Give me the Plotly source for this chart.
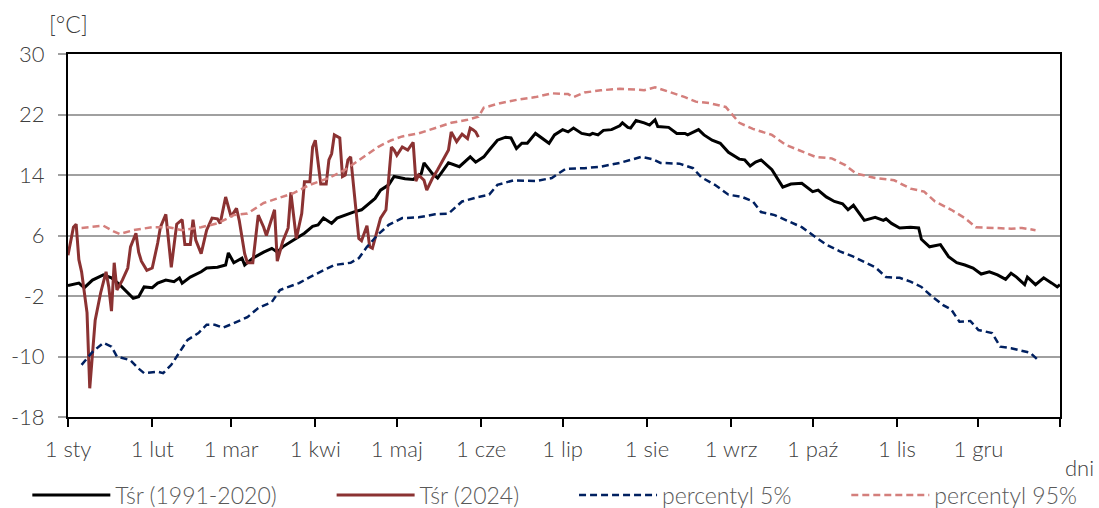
import plotly.graph_objects as go

# ---- data (day index 0 = 1 Jan 2024) ----
clim_days = [0,4,6,9,13,16,19,22,24,26,28,31,33,36,39,41,42,45,49,51,55,58,59,61,64,65,68,72,75,77,79,83,87,90,92,94,97,99,103,105,108,110,113,115,118,120,124,127,130,131,134,136,140,144,148,150,153,155,158,161,163,165,167,169,172,177,179,182,184,186,189,192,193,195,197,200,203,204,206,207,209,212,214,216,217,221,224,227,228,232,234,237,240,243,247,249,251,253,255,259,263,266,270,274,276,279,282,285,287,289,293,297,300,301,303,306,310,313,314,317,321,324,327,330,333,336,339,342,345,347,349,352,353,356,359,362,364,365]
clim_vals = [-0.6,-0.3,-0.9,0.1,0.8,0.4,-0.5,-1.6,-2.3,-2.1,-0.8,-0.9,-0.3,0.1,-0.1,0.4,-0.3,0.5,1.2,1.7,1.8,2.1,3.7,2.4,3.0,2.1,3.0,3.8,4.3,3.8,4.5,5.4,6.3,7.2,7.4,8.3,7.6,8.3,8.9,9.1,9.4,10.0,10.9,12.0,12.7,13.8,13.5,13.4,14.2,15.6,14.2,13.6,15.6,15.1,16.4,15.7,16.4,17.3,18.6,19.0,18.9,17.5,18.2,18.2,19.5,18.2,19.3,20.0,19.7,20.2,19.5,19.3,19.5,19.3,19.9,20.0,20.5,20.9,20.3,20.2,21.2,20.9,20.6,21.3,20.4,20.3,19.5,19.5,19.3,20.0,19.3,18.6,18.2,17.0,16.1,16.0,15.2,15.7,16.0,14.7,12.4,12.8,12.9,11.8,12.0,11.1,10.5,10.2,9.4,10.0,8.0,8.4,8.0,8.2,7.6,7.0,7.1,7.0,5.5,4.5,4.8,3.2,2.4,2.1,1.7,0.9,1.2,0.8,0.2,1.0,0.5,-0.5,0.5,-0.5,0.4,-0.3,-0.8,-0.5]

y2024_days = [0,2,3,4,5,7,8,10,12,14,15,16,17,18,20,22,23,25,26,27,29,31,33,34,36,37,38,40,42,43,45,46,47,49,51,53,55,56,58,60,62,63,65,66,68,70,72,73,76,77,79,81,82,84,86,87,89,90,91,93,95,96,97,98,100,101,102,103,104,107,108,110,111,112,114,115,117,119,120,121,123,125,127,128,129,131,132,134,136,139,140,141,143,144,145,147,148,149,150,151]
y2024_vals = [3.4,7.1,7.5,2.8,1.2,-4.2,-14.2,-5.2,-1.6,1.2,-0.8,-4.0,2.4,-1.2,0.1,1.7,4.5,6.3,3.8,2.6,1.4,1.7,5.0,7.1,8.8,5.7,1.8,7.5,8.1,4.8,4.8,8.1,5.4,3.6,6.7,8.3,8.2,7.6,11.1,8.5,9.6,8.0,3.6,2.4,2.4,8.7,7.1,6.0,9.4,2.6,5.2,7.0,11.7,5.6,8.9,13.1,13.1,17.7,18.6,12.8,12.8,16.0,16.8,19.3,18.9,13.8,14.0,16.0,16.4,5.6,5.3,7.3,4.5,4.3,6.9,8.3,9.4,17.7,17.3,16.6,17.7,17.3,18.3,13.2,14.0,13.3,12.0,13.5,14.7,16.6,17.3,19.7,18.4,18.9,19.4,18.8,20.2,20.0,19.7,19.0]

p5_days = [5,9,13,16,18,23,26,28,33,35,38,41,44,48,51,54,57,61,66,70,75,78,85,89,94,98,104,107,110,114,118,123,129,135,140,145,151,155,158,164,172,178,183,190,196,203,207,211,215,218,225,230,233,238,243,248,252,255,260,266,270,275,279,284,289,293,297,301,306,310,314,318,322,325,328,332,335,340,343,347,349,354,357]
p5_vals = [-11.1,-9.4,-8.2,-8.7,-10.0,-10.5,-11.6,-12.2,-12.0,-12.2,-11.1,-9.4,-7.8,-6.9,-5.8,-5.8,-6.2,-5.6,-4.8,-3.6,-2.8,-1.2,-0.3,0.5,1.4,2.1,2.4,3.0,4.5,6.1,7.4,8.3,8.4,8.8,8.9,10.5,11.1,11.4,12.7,13.3,13.2,13.6,14.8,14.9,15.1,15.6,16.0,16.4,16.1,15.6,15.5,14.9,13.7,12.7,11.4,11.1,10.5,9.1,8.7,7.8,7.1,5.8,4.8,3.9,3.2,2.5,1.8,0.5,0.4,-0.1,-0.8,-2.1,-3.2,-3.8,-5.4,-5.3,-6.5,-6.9,-8.7,-8.9,-9.1,-9.5,-10.5]

p95_days = [5,13,17,19,24,31,37,42,49,55,61,66,72,77,83,89,96,102,108,114,119,123,129,135,141,147,151,153,159,166,172,178,184,186,190,196,203,209,212,216,221,227,231,236,242,247,252,259,264,270,275,281,286,290,297,304,310,315,319,325,330,334,340,347,351,356]
p95_vals = [7.0,7.3,6.5,6.2,6.7,7.1,7.1,6.7,7.1,7.6,8.7,8.9,10.3,10.9,11.6,12.7,13.6,14.7,16.2,17.7,18.6,19.1,19.5,20.2,20.9,21.3,21.7,22.9,23.5,24.0,24.3,24.8,24.7,24.3,24.9,25.2,25.4,25.3,25.2,25.6,25.0,24.3,23.7,23.5,23.0,20.9,20.1,19.3,18.0,17.1,16.4,16.2,15.3,14.2,13.6,13.3,12.2,11.8,10.5,9.4,8.3,7.1,7.0,6.9,7.0,6.7]

month_days = [0,31,60,91,121,152,182,213,244,274,305,335,365]
month_labels = ["1 sty","1 lut","1 mar","1 kwi","1 maj","1 cze","1 lip","1 sie","1 wrz","1 paź","1 lis","1 gru",""]
y_ticks = [-18,-10,-2,6,14,22,30]
y_labels = ["-18","-10","-2","6","14","22","30"]
series_names = ["Tśr (1991-2020)", "Tśr (2024)", "percentyl 5%", "percentyl 95%"]

FONT = "Lato"
TXT = "#595959"
AX = "#404040"
PAD = "\u00a0" * 8

fig = go.Figure()
fig.add_trace(go.Scatter(x=clim_days, y=clim_vals, mode="lines", name=series_names[0] + PAD,
                         line=dict(color="#000000", width=3)))
fig.add_trace(go.Scatter(x=y2024_days, y=y2024_vals, mode="lines", name=series_names[1] + PAD,
                         line=dict(color="#8B3232", width=3)))
fig.add_trace(go.Scatter(x=p5_days, y=p5_vals, mode="lines", name=series_names[2] + PAD,
                         line=dict(color="#002060", width=2.5, dash="7px,4px")))
fig.add_trace(go.Scatter(x=p95_days, y=p95_vals, mode="lines", name=series_names[3],
                         line=dict(color="#D47F7C", width=2.5, dash="7px,4px")))

fig.update_layout(
    width=1099, height=508,
    margin=dict(l=68, r=39, t=54, b=91, autoexpand=False),
    paper_bgcolor="white", plot_bgcolor="white",
    font=dict(family=FONT, size=22, color=TXT),
    showlegend=True,
    legend=dict(orientation="h", x=-0.041, xanchor="left", y=-0.215, yanchor="middle",
                font=dict(family=FONT, size=23, color=TXT, weight=300), itemwidth=78,
                bgcolor="rgba(0,0,0,0)"),
    xaxis=dict(range=[0, 365], tickmode="array", tickvals=month_days, ticktext=month_labels,
               showgrid=False, zeroline=False, showline=True, linecolor="#000000", linewidth=2,
               mirror=True, ticks="outside", ticklen=8, tickcolor="#000000", tickwidth=2,
               ticklabelstandoff=4, automargin=False,
               tickfont=dict(family=FONT, size=22, color=AX, weight=300)),
    yaxis=dict(range=[-18, 30], tickmode="array", tickvals=y_ticks, ticktext=y_labels,
               showgrid=True, gridcolor="#A0A0A0", gridwidth=2, zeroline=False,
               showline=True, linecolor="#000000", linewidth=2, mirror=True,
               ticks="outside", ticklen=8, tickcolor="#A0A0A0", tickwidth=2,
               ticklabelstandoff=9, automargin=False,
               tickfont=dict(family=FONT, size=22, color=AX, weight=300)),
    annotations=[
        dict(text="[°C]", xref="paper", yref="paper", x=0.001, y=1.083, showarrow=False,
             xanchor="center", yanchor="middle", font=dict(family=FONT, size=23, color=AX, weight=300)),
        dict(text="dni", xref="paper", yref="paper", x=1.02, y=-0.138, showarrow=False,
             xanchor="center", yanchor="middle", font=dict(family=FONT, size=22, color=AX, weight=300)),
    ],
)

fig.write_html("out.html", config={"displayModeBar": False},
               post_script="document.body.style.margin='0px';")
